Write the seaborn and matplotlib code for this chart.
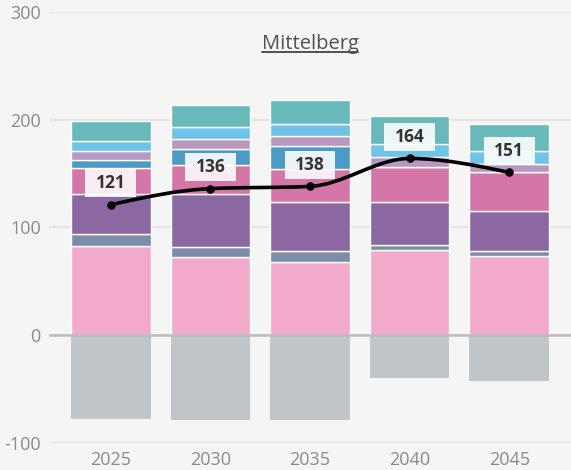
import numpy as np
import pandas as pd
import matplotlib
matplotlib.use("Agg")
import matplotlib.pyplot as plt
import seaborn as sns
from matplotlib.path import Path
from matplotlib.patches import PathPatch, Rectangle
from matplotlib.lines import Line2D

# ---------------- data ----------------
title = "Mittelberg"
years = ["2025", "2030", "2035", "2040", "2045"]
# stacked from bottom to top
light_pink = [83, 72, 68, 79, 73]
grey_blue = [11, 10, 10, 5, 5]
purple = [37, 49, 46, 40, 37]
pink = [24, 27, 30, 32, 36]
blue = [8, 15, 22, 0, 0]
lilac = [8, 9, 9, 9, 8]
light_blue = [9, 11, 11, 12, 12]
teal = [19, 21, 22, 26, 25]
negative = [-78, -79, -79, -40, -43]
net = [121, 136, 138, 164, 151]
y_ticks = [-100, 0, 100, 200, 300]

series = [light_pink, grey_blue, purple, pink, blue, lilac, light_blue, teal]
colors = ["#f2aacb", "#7d8ca7", "#8b68a2", "#d576a9", "#4b9bc6",
          "#b897c0", "#6fc3e9", "#67bab9"]
neg_color = "#c0c5c9"

# ---------------- style ----------------
sns.set_theme(style="white")
plt.rcParams["font.family"] = ["Open Sans", "DejaVu Sans"]
bg = "#f5f5f5"

fig = plt.figure(figsize=(5.71, 4.70), dpi=100, facecolor=bg)
ax = fig.add_axes([49 / 571, (470 - 442.7) / 470, 1 - 49 / 571, (442.7 - 12) / 470])
ax.set_facecolor(bg)

# stacked bars
bottom = np.zeros(len(years))
for vals, c in zip(series, colors):
    sns.barplot(x=years, y=vals, bottom=bottom, color=c, saturation=1,
                width=0.8, edgecolor="white", linewidth=1, errorbar=None,
                ax=ax, zorder=2)
    bottom = bottom + np.array(vals)
sns.barplot(x=years, y=negative, color=neg_color, saturation=1, width=0.8,
            linewidth=0, errorbar=None, ax=ax, zorder=2)

# axes
ax.set_xlim(-0.62, 4.62)
ax.set_ylim(-100, 300)
ax.set_yticks(y_ticks)
ax.set_yticklabels([str(t) for t in y_ticks])
ax.set_xlabel("")
ax.set_ylabel("")
for s in ax.spines.values():
    s.set_visible(False)
ax.grid(axis="y", color="#e4e4e4", linewidth=1.5, zorder=0)
ax.grid(axis="x", visible=False)
ax.set_axisbelow(True)
ax.tick_params(axis="both", length=0, labelsize=13, labelcolor="#8a8a8a")
ax.tick_params(axis="x", pad=6)
ax.tick_params(axis="y", pad=6)
ax.axhline(0, color="#bcbcbc", linewidth=1.8, zorder=3)

# smooth (monotone) line for net values
xs = np.arange(len(net), dtype=float)
ys = np.array(net, dtype=float)
n = len(xs)
sl = np.diff(ys) / np.diff(xs)
tang = np.zeros(n)
for i in range(1, n - 1):
    s0, s1 = sl[i - 1], sl[i]
    p = (s0 + s1) / 2
    tang[i] = (np.sign(s0) + np.sign(s1)) * min(abs(s0), abs(s1), 0.5 * abs(p))
tang[0] = (3 * sl[0] - tang[1]) / 2
tang[-1] = (3 * sl[-1] - tang[-2]) / 2
verts = [(xs[0], ys[0])]
codes = [Path.MOVETO]
for i in range(n - 1):
    dx = (xs[i + 1] - xs[i]) / 3
    verts += [(xs[i] + dx, ys[i] + dx * tang[i]),
              (xs[i + 1] - dx, ys[i + 1] - dx * tang[i + 1]),
              (xs[i + 1], ys[i + 1])]
    codes += [Path.CURVE4] * 3
ax.add_patch(PathPatch(Path(verts, codes), facecolor="none", edgecolor="black",
                       linewidth=2.6, zorder=5, capstyle="round"))
sns.scatterplot(x=xs, y=ys, color="black", s=38, edgecolor="black",
                linewidth=0, ax=ax, zorder=6, legend=False)

# value labels
bw, bh = 0.51, 26
for x, v in zip(xs, net):
    cy = v + 20
    ax.add_patch(Rectangle((x - bw / 2, cy - bh / 2), bw, bh, facecolor="white",
                           alpha=0.88, edgecolor="none", zorder=7))
    ax.text(x, cy, str(v), ha="center", va="center", fontsize=12.5,
            fontweight="bold", color="#333333", zorder=8)

# title with underline
t = fig.text((49 + 0.5 * 522) / 571, (470 - 48.5) / 470, title, ha="center",
             va="baseline", fontsize=14.5, color="#505050")
fig.canvas.draw()
bb = t.get_window_extent(renderer=fig.canvas.get_renderer())
x0, x1 = bb.x0 / fig.bbox.width, bb.x1 / fig.bbox.width
yline = ((470 - 51.5) / 470)
fig.add_artist(Line2D([x0, x1], [yline, yline], transform=fig.transFigure,
                      color="#505050", linewidth=1.4))

fig.savefig("out.png", dpi=100, facecolor=bg)
